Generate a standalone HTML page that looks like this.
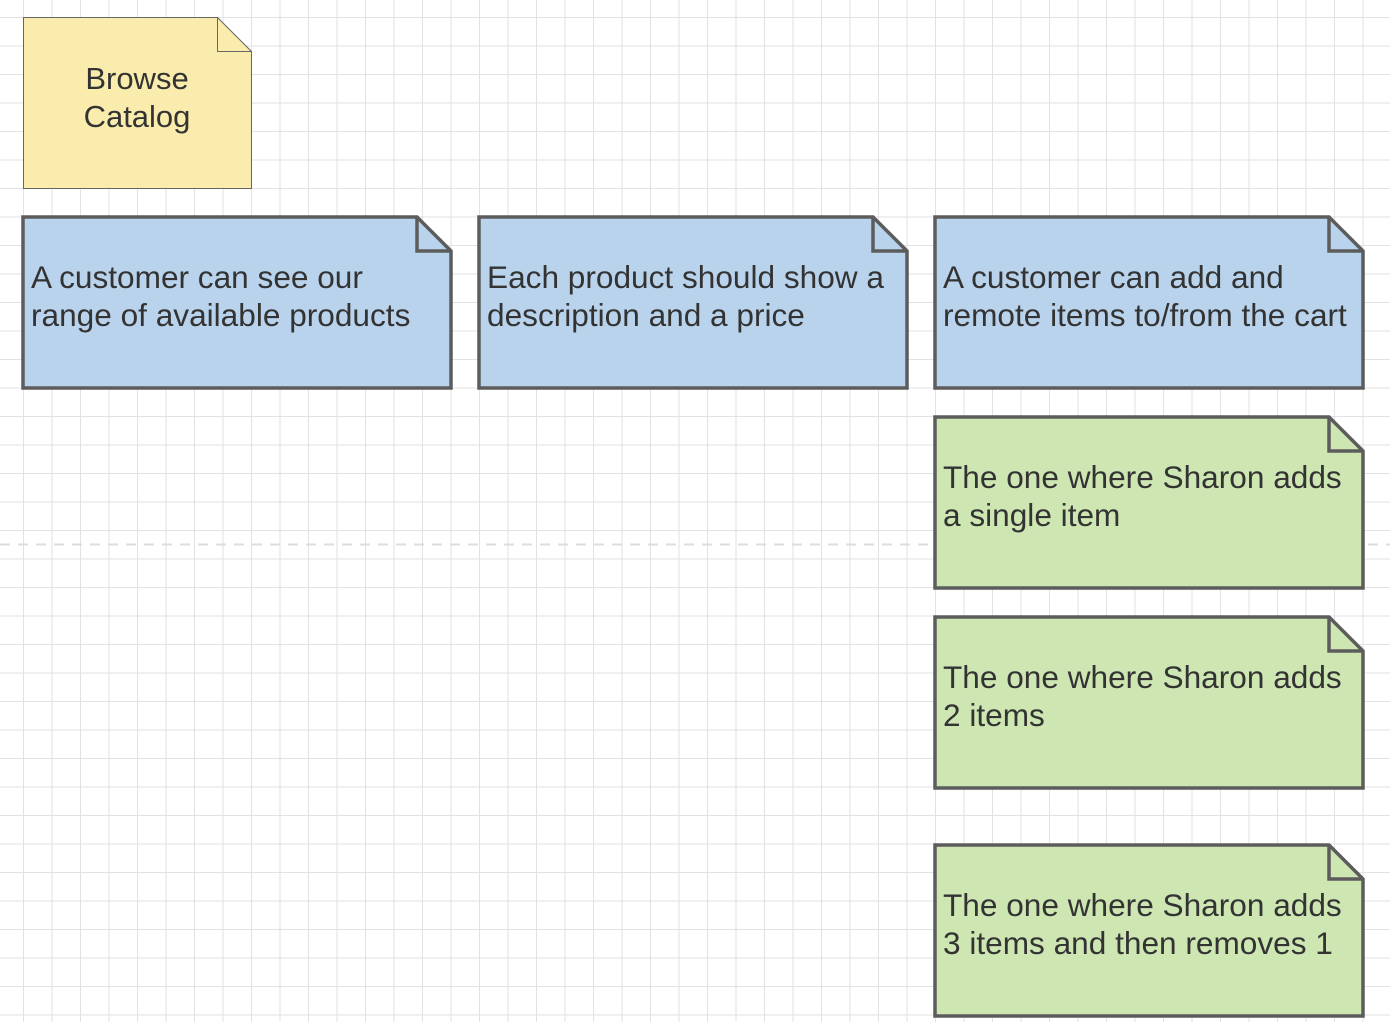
<!DOCTYPE html>
<html><head><style>html,body{margin:0;padding:0;background:#fff}svg{display:block}</style></head>
<body>
<svg width="1390" height="1022" xmlns="http://www.w3.org/2000/svg" font-family="Liberation Sans, sans-serif" fill="#333">
<defs>
<pattern id="g" x="23" y="17" width="28.5" height="28.5" patternUnits="userSpaceOnUse">
<path d="M0 0.5H28.5M0.5 0V28.5" stroke="#e2e2e2" stroke-width="1" fill="none"/>
</pattern>
</defs>
<rect width="1390" height="1022" fill="url(#g)"/>
<line x1="0" y1="544.5" x2="1390" y2="544.5" stroke="#dcdcdc" stroke-width="2" stroke-dasharray="10,8"/>

<path d="M23.5 17.5H217.5L251.5 51.5V188.5H23.5Z" fill="#f9ecad" stroke="#666" stroke-width="1"/>
<path d="M217.5 17.5V51.5H251.5" fill="none" stroke="#666" stroke-width="1"/>
<text x="137" y="89" font-size="31" text-anchor="middle">Browse</text>
<text x="137" y="127" font-size="31" text-anchor="middle">Catalog</text>

<g stroke="#5c5c5c" stroke-width="3.5" stroke-linejoin="miter">
<path d="M23 217H417L451 251V388H23Z" fill="#b9d3ec"/><path d="M417 217V251H451" fill="none"/>
<path d="M479 217H873L907 251V388H479Z" fill="#b9d3ec"/><path d="M873 217V251H907" fill="none"/>
<path d="M935 217H1329L1363 251V388H935Z" fill="#b9d3ec"/><path d="M1329 217V251H1363" fill="none"/>
<path d="M935 417H1329L1363 451V588H935Z" fill="#cde6b2"/><path d="M1329 417V451H1363" fill="none"/>
<path d="M935 617H1329L1363 651V788H935Z" fill="#cde6b2"/><path d="M1329 617V651H1363" fill="none"/>
<path d="M935 845H1329L1363 879V1016H935Z" fill="#cde6b2"/><path d="M1329 845V879H1363" fill="none"/>
</g>

<g font-size="31.6">
<text x="31" y="288">A customer can see our</text>
<text x="31" y="326">range of available products</text>
<text x="487" y="288">Each product should show a</text>
<text x="487" y="326">description and a price</text>
<text x="943" y="288">A customer can add and</text>
<text x="943" y="326">remote items to/from the cart</text>
<text x="943" y="488">The one where Sharon adds</text>
<text x="943" y="526">a single item</text>
<text x="943" y="688">The one where Sharon adds</text>
<text x="943" y="726">2 items</text>
<text x="943" y="916">The one where Sharon adds</text>
<text x="943" y="954">3 items and then removes 1</text>
</g>
</svg>
</body></html>
